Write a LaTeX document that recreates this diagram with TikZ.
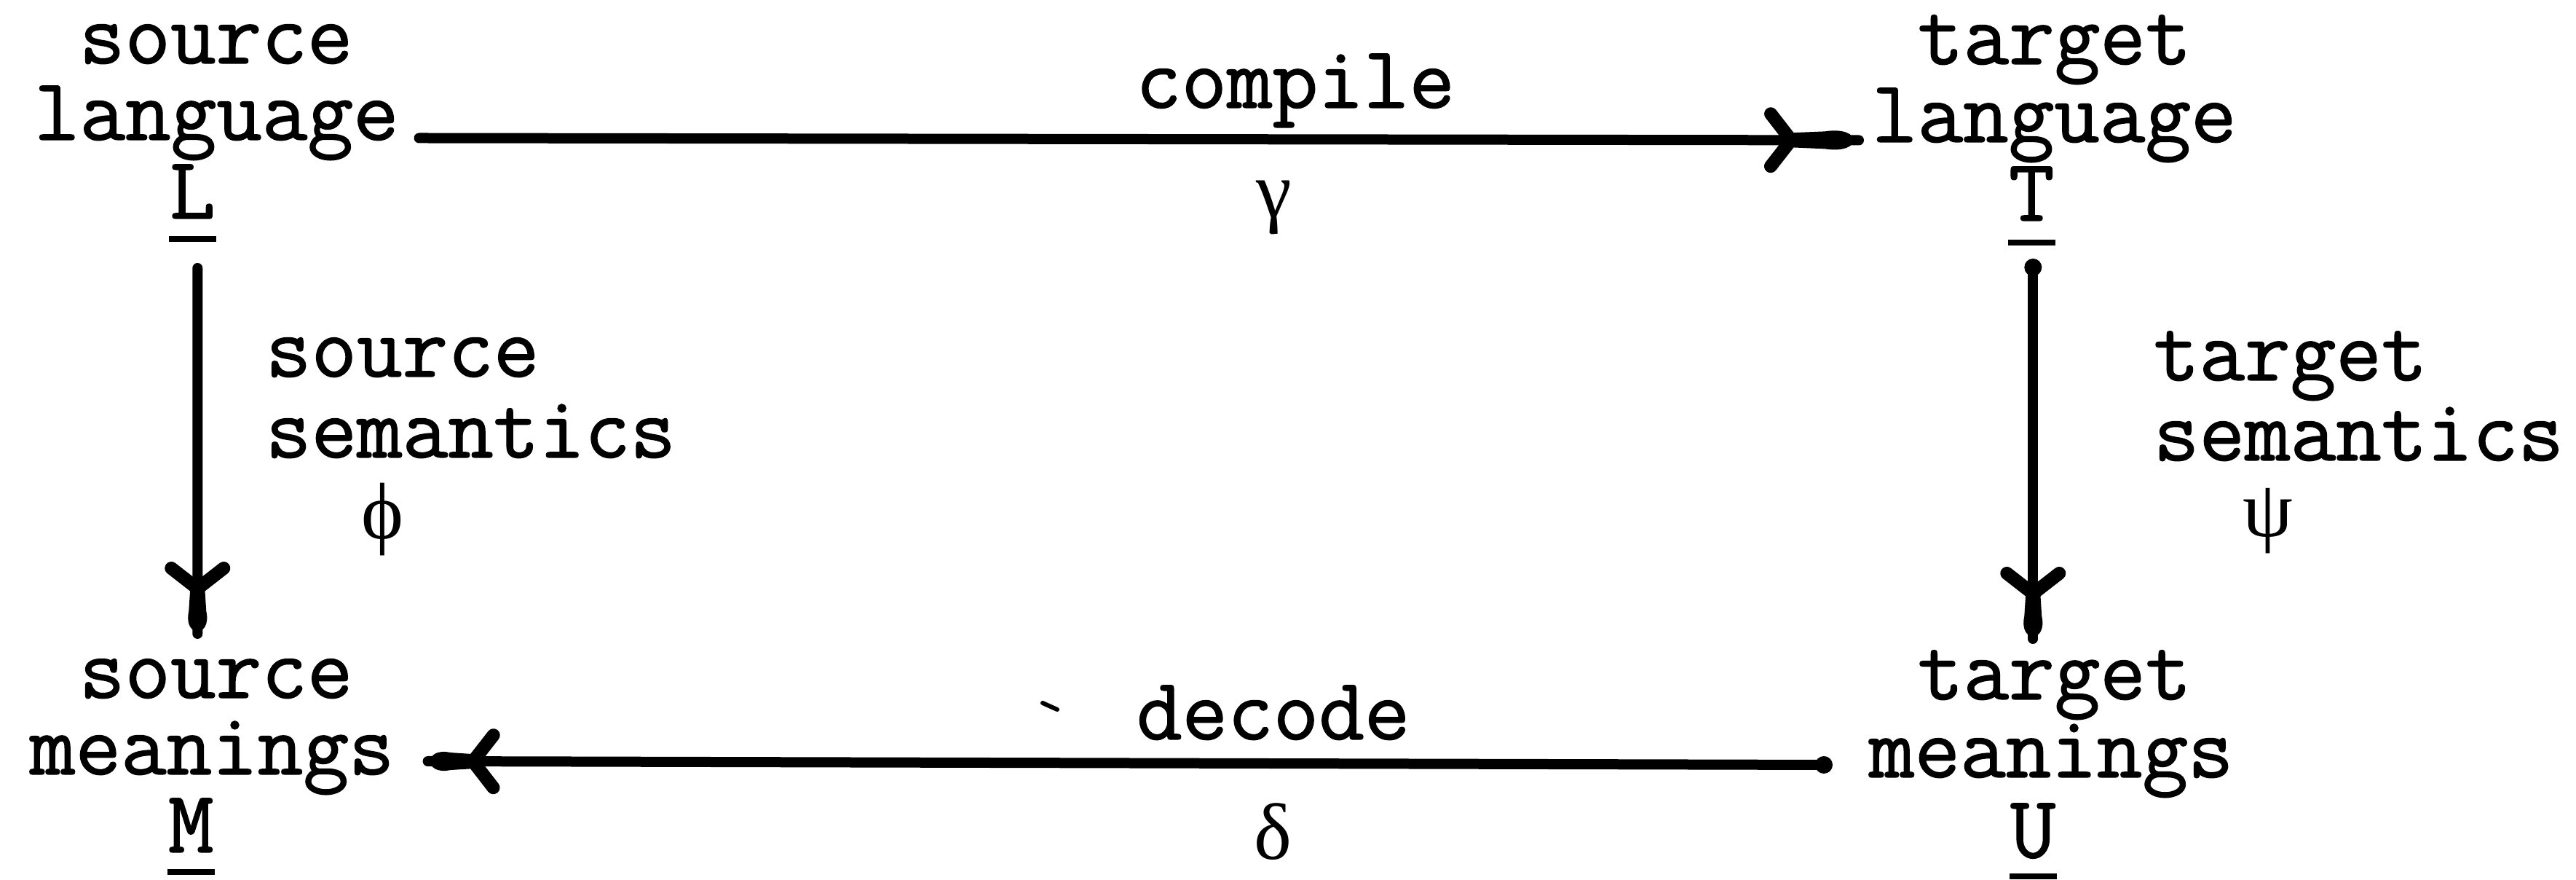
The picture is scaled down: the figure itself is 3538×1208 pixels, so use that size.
\documentclass[tikz,border=0pt]{standalone}
\usepackage{fontspec}
\newfontfamily\tw[FakeBold=1.2]{Latin Modern Mono}
\newfontfamily\gk{Liberation Serif}
\usetikzlibrary{decorations.markings}
\newcommand\twf{\tw\fontsize{24.3pt}{26pt}\selectfont}
\newcommand\gkf{\gk\fontsize{22pt}{24pt}\selectfont}
\newcommand\arrowblob[1]{%
  \fill (-#1,-10) -- (-#1*0.5,-12) .. controls (6,-20) and (6,20) .. (-#1*0.5,12) -- (-#1,10) -- cycle;
  \draw[line width=3.6pt,line cap=round] (-#1,0) -- (-#1-28,36) (-#1,0) -- (-#1-28,-36);}
\tikzset{
  lbl/.style={font=\twf, inner sep=0pt, anchor=base west},
  sym/.style={font=\gkf, inner sep=0pt, anchor=center},
  conn/.style={line width=2.8pt, line cap=round},
  ul/.style={line width=1.6pt},
  headbig/.style={postaction={decorate,decoration={markings,mark=at position 1 with {\arrowblob{93}}}}},
  headsmall/.style={postaction={decorate,decoration={markings,mark=at position 1 with {\arrowblob{62}}}}},
  startdot/.style={postaction={decorate,decoration={markings,mark=at position 0 with {\fill (0,0) circle[radius=12];}}}}
}
\begin{document}
\begin{tikzpicture}[x=0.2pt,y=-0.2pt]
\useasboundingbox (0,0) rectangle (3538,1208);
% corner blocks
\node[lbl] (sl1) at (108,87) {source};
\node[lbl] (sl2) at (46,192) {language};
\node[lbl] (sl3) at (232,300) {L};
\node[lbl] (bl1) at (108,958) {source};
\node[lbl] (bl2) at (40,1063) {meanings};
\node[lbl] (bl3) at (230,1170) {M};
\node[lbl] (tr1) at (2633,88) {target};
\node[lbl] (tr2) at (2570,195) {language};
\node[lbl] (tr3) at (2758,303) {T};
\node[lbl] (br1) at (2633,960) {target};
\node[lbl] (br2) at (2566,1067) {meanings};
\node[lbl] (br3) at (2760,1177) {U};
% edge labels
\node[lbl] (cmp) at (1559,148) {compile};
\node[sym] (gam) at (1750,285) {γ};
\node[lbl] (dec) at (1560,1015) {decode};
\node[sym] (del) at (1748,1142) {δ};
\node[lbl] (ls1) at (364,517) {source};
\node[lbl] (ls2) at (364,628) {semantics};
\node[sym] (phi) at (525,713) {ϕ};
\node[lbl] (rs1) at (2957,522) {target};
\node[lbl] (rs2) at (2957,632) {semantics};
\node[sym] (psi) at (3115,715) {ψ};
% underlines
\draw[ul] ([yshift=-5.6pt]sl3.base west) -- ([yshift=-5.6pt]sl3.base east);
\draw[ul] ([yshift=-5.4pt]bl3.base west) -- ([yshift=-5.4pt]bl3.base east);
\draw[ul] ([yshift=-6pt]tr3.base west) -- ([yshift=-6pt]tr3.base east);
\draw[ul] ([yshift=-5.2pt]br3.base west) -- ([yshift=-5.2pt]br3.base east);
% stray mark
\draw[line width=1.2pt,line cap=round] (1432,965) -- (1452,974);
% connectors
\draw[conn,headbig] ([xshift=5.4pt,yshift=0.5pt]sl2.base east) -- ([xshift=-3.4pt,yshift=0.5pt]tr2.base west);
\draw[conn,headsmall] ([xshift=1.4pt,yshift=-13.6pt]sl3.base) -- ([xshift=1.8pt,yshift=60pt]bl3.base);
\draw[conn,headsmall,startdot] ([xshift=0.4pt,yshift=-12.8pt]tr3.base) -- ([yshift=60pt]br3.base);
\draw[conn,headsmall,startdot] ([xshift=-12.2pt,yshift=3.4pt]br2.base west) -- ([xshift=9pt,yshift=3.6pt]bl2.base east);
\end{tikzpicture}
\end{document}
